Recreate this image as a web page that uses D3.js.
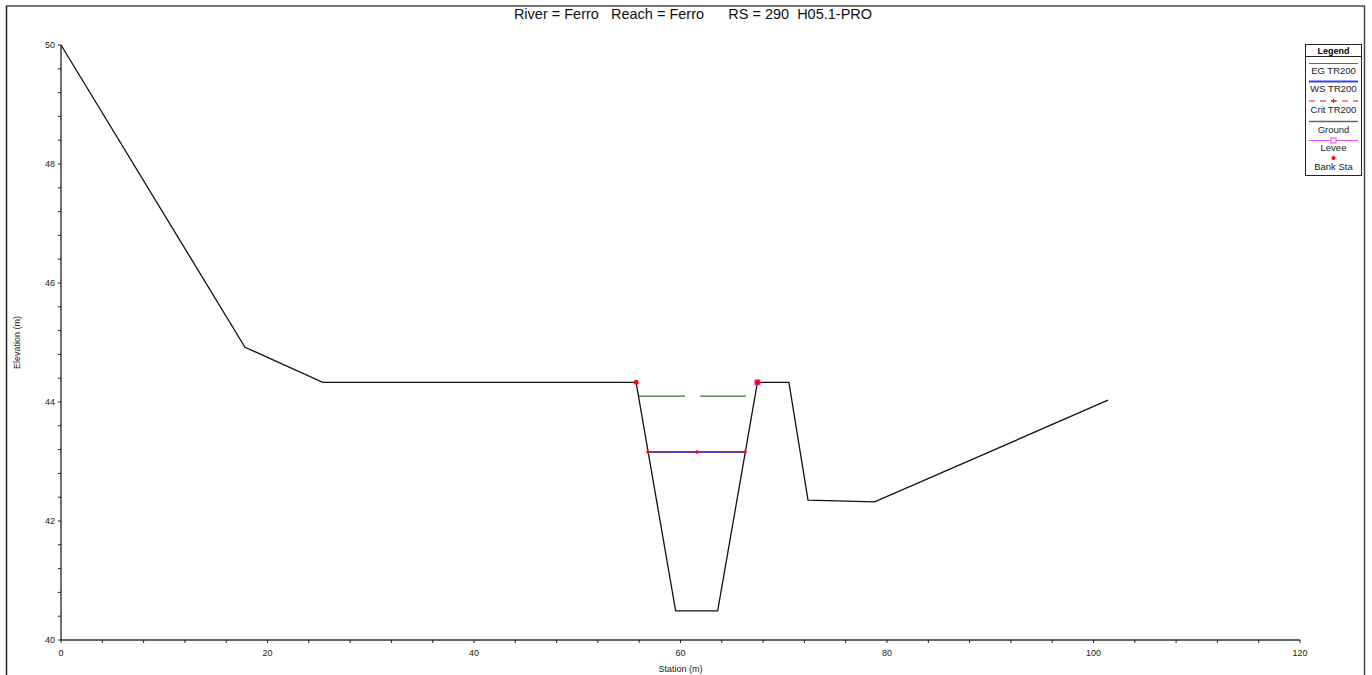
<!DOCTYPE html>
<html>
<head>
<meta charset="utf-8">
<script src="https://cdn.jsdelivr.net/npm/d3@7"></script>
<style>
  body { margin: 0; background: #fff; }
  svg { font-family: "Liberation Sans", Arial, sans-serif; }
</style>
</head>
<body>
<svg id="chart" width="1372" height="675"></svg>
<script>
const groundSta = [0, 17.82, 25.35, 55.7, 59.53, 63.6, 67.45, 70.5, 72.35, 78.8, 101.4];
const groundElev = [50, 44.92, 44.33, 44.33, 40.49, 40.49, 44.33, 44.33, 42.35, 42.32, 44.03];
const wsSta = [56.85, 66.25];
const wsElev = [43.16, 43.16];
const critSta = [56.85, 61.6, 66.25];
const critElev = [43.16, 43.16, 43.16];
const egSegments = [[55.88, 60.44], [61.89, 66.34]];
const egElev = 44.1;
const bankSta = [55.7, 67.45];
const bankElev = [44.33, 44.33];
const leveeSta = [67.45];
const leveeElev = [44.33];
const xTicks = [0, 20, 40, 60, 80, 100, 120];
const yTicks = [40, 42, 44, 46, 48, 50];
const legendItems = ['EG TR200', 'WS TR200', 'Crit TR200', 'Ground', 'Levee', 'Bank Sta'];

const svg = d3.select('#chart');
const W = 1372, H = 675;

const x = d3.scaleLinear().domain([0, 120]).range([61, 1300]);
const y = d3.scaleLinear().domain([40, 50]).range([640, 45]);

// frame
svg.append('line').attr('x1', 6).attr('x2', 1365).attr('y1', 6).attr('y2', 6)
   .attr('stroke', '#777').attr('stroke-width', 2);
svg.append('line').attr('x1', 6.5).attr('x2', 6.5).attr('y1', 6).attr('y2', H)
   .attr('stroke', '#222').attr('stroke-width', 1.5);
svg.append('line').attr('x1', 1364.5).attr('x2', 1364.5).attr('y1', 6).attr('y2', H)
   .attr('stroke', '#444').attr('stroke-width', 1.5);

svg.append('text').attr('x', 693).attr('y', 19).attr('text-anchor', 'middle')
   .attr('font-size', 14.5).attr('fill', '#111')
   .style('white-space', 'pre')
   .text('River = Ferro   Reach = Ferro      RS = 290  H05.1-PRO');

// axes
const xAxis = svg.append('g').attr('transform', 'translate(0,640)');
xAxis.append('line').attr('x1', x(0)).attr('x2', x(120)).attr('stroke', '#666').attr('stroke-width', 2);
xAxis.selectAll('.minor').data(d3.range(0, 121, 4)).enter().append('line')
  .attr('x1', d => x(d)).attr('x2', d => x(d)).attr('y1', 0).attr('y2', 3)
  .attr('stroke', '#222').attr('stroke-width', 1);
xAxis.selectAll('.lbl').data(xTicks).enter().append('text')
  .attr('x', d => x(d)).attr('y', 16).attr('text-anchor', 'middle')
  .attr('font-size', 9).attr('fill', '#222').text(d => d);
svg.append('text').attr('x', (x(0) + x(120)) / 2).attr('y', 672).attr('text-anchor', 'middle')
  .attr('font-size', 9).attr('fill', '#222').text('Station (m)');

const yAxis = svg.append('g').attr('transform', `translate(${x(0)},0)`);
yAxis.append('line').attr('y1', y(40)).attr('y2', y(50)).attr('stroke', '#111').attr('stroke-width', 1.2);
yAxis.selectAll('.minor').data(d3.range(0, 26).map(i => 40 + i * 0.4)).enter().append('line')
  .attr('x1', -3).attr('x2', 0).attr('y1', d => y(d)).attr('y2', d => y(d))
  .attr('stroke', '#222');
yAxis.selectAll('.lbl').data(yTicks).enter().append('text')
  .attr('x', -6).attr('y', d => y(d) + 3).attr('text-anchor', 'end')
  .attr('font-size', 9).attr('fill', '#222').text(d => d);
svg.append('text').attr('transform', `translate(20,${(y(40) + y(50)) / 2}) rotate(-90)`)
  .attr('text-anchor', 'middle').attr('font-size', 9).attr('fill', '#222').text('Elevation (m)');

const line = d3.line().x(d => x(d[0])).y(d => y(d[1]));

// EG
egSegments.forEach(s => {
  svg.append('path').attr('d', line([[s[0], egElev], [s[1], egElev]]))
    .attr('stroke', '#2e7d2e').attr('stroke-width', 1.2).attr('fill', 'none');
});

// ground
svg.append('path').attr('d', line(groundSta.map((s, i) => [s, groundElev[i]])))
  .attr('stroke', '#111').attr('stroke-width', 1.3).attr('fill', 'none');

// WS
svg.append('path').attr('d', line(wsSta.map((s, i) => [s, wsElev[i]])))
  .attr('stroke', '#3344ee').attr('stroke-width', 2).attr('fill', 'none');
// Crit
svg.append('path').attr('d', line(critSta.map((s, i) => [s, critElev[i]])))
  .attr('stroke', '#d02050').attr('stroke-width', 1.5).attr('stroke-dasharray', '6,4')
  .attr('stroke-opacity', 0.75).attr('fill', 'none');
svg.selectAll('.crit').data(critSta).enter().append('path')
  .attr('d', (d, i) => `M${x(d) - 2},${y(critElev[i])}h4M${x(d)},${y(critElev[i]) - 2}v4`)
  .attr('stroke', '#ff1010').attr('stroke-width', 1.5);

// levee
svg.selectAll('.levee').data(leveeSta).enter().append('rect')
  .attr('x', d => x(d) - 3).attr('y', (d, i) => y(leveeElev[i]) - 3)
  .attr('width', 6).attr('height', 6).attr('fill', '#ee44ee');
// bank
svg.selectAll('.bank').data(bankSta).enter().append('circle')
  .attr('cx', d => x(d)).attr('cy', (d, i) => y(bankElev[i])).attr('r', 2.5).attr('fill', '#ff0000');

// legend
const lg = svg.append('g');
lg.append('rect').attr('x', 1305.5).attr('y', 44.5).attr('width', 56).attr('height', 131)
  .attr('fill', '#fff').attr('stroke', '#222');
lg.append('text').attr('x', 1333.5).attr('y', 53.5).attr('text-anchor', 'middle')
  .attr('font-size', 9).attr('font-weight', 'bold').text('Legend');
lg.append('line').attr('x1', 1305).attr('x2', 1362).attr('y1', 56.5).attr('y2', 56.5).attr('stroke', '#222');
const lx1 = 1309, lx2 = 1358;
lg.append('line').attr('x1', lx1).attr('x2', lx2).attr('y1', 63.5).attr('y2', 63.5).attr('stroke', '#2e8b2e');
lg.append('line').attr('x1', lx1).attr('x2', lx2).attr('y1', 81.5).attr('y2', 81.5).attr('stroke', '#3344ee').attr('stroke-width', 2);
lg.append('line').attr('x1', lx1).attr('x2', lx2).attr('y1', 101).attr('y2', 101).attr('stroke', '#ee1111').attr('stroke-dasharray', '6,5');
lg.append('path').attr('d', 'M1331,101h5M1333.5,99v4').attr('stroke', '#ee1111');
lg.append('line').attr('x1', lx1).attr('x2', lx2).attr('y1', 121.5).attr('y2', 121.5).attr('stroke', '#666').attr('stroke-width', 1.5);
lg.append('line').attr('x1', lx1).attr('x2', lx2).attr('y1', 140.5).attr('y2', 140.5).attr('stroke', '#ee55ee').attr('stroke-width', 1.2);
lg.append('rect').attr('x', 1331).attr('y', 138).attr('width', 5).attr('height', 5).attr('fill', '#fff').attr('stroke', '#ee44ee');
lg.append('circle').attr('cx', 1333.5).attr('cy', 158).attr('r', 2).attr('fill', '#ff0000');
const textY = [74, 92, 112.5, 133, 151, 170];
lg.selectAll('.lt').data(legendItems).enter().append('text')
  .attr('x', 1333.5).attr('y', (d, i) => textY[i]).attr('text-anchor', 'middle')
  .attr('font-size', 9.5).attr('fill', '#222').text(d => d);
</script>
</body>
</html>
